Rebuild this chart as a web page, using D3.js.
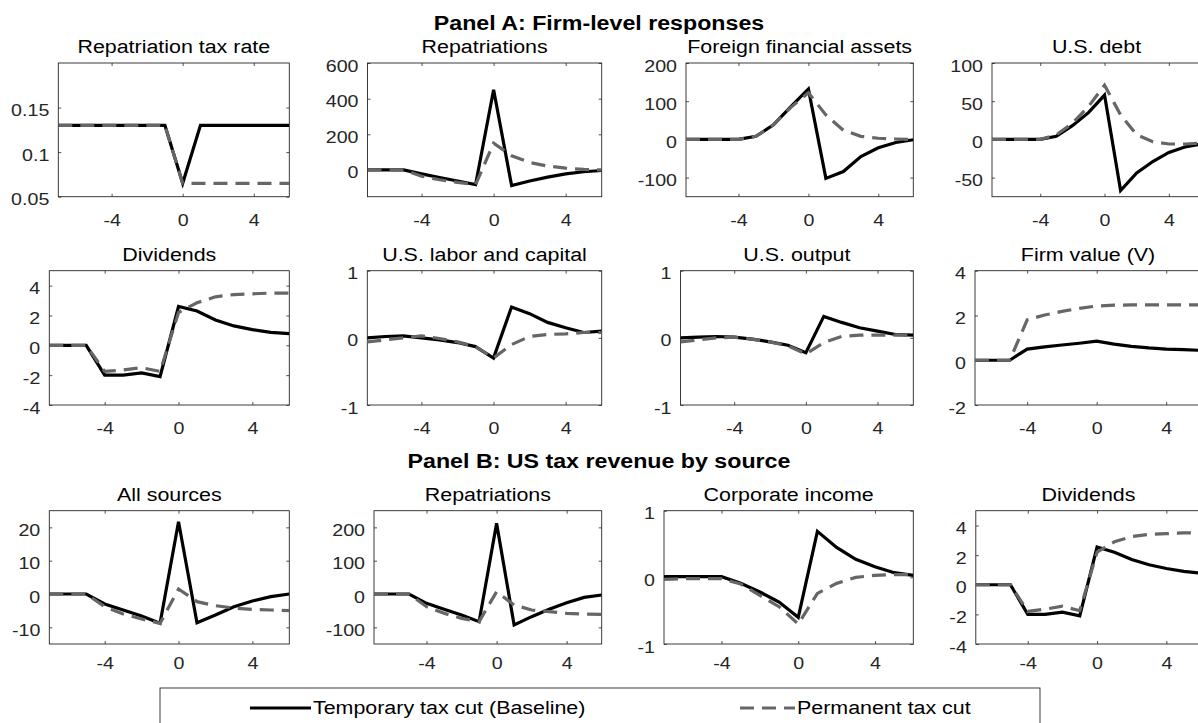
<!DOCTYPE html>
<html><head><meta charset="utf-8">
<script src="https://cdn.jsdelivr.net/npm/d3@7"></script>
<style>html,body{margin:0;padding:0;background:#fff;overflow:hidden}</style>
</head><body>
<svg id="chart" width="1198" height="723"></svg>
<script>
// ---------------- data ----------------
const periods = [-7,-6,-5,-4,-3,-2,-1,0,1,2,3,4,5,6];
const xTicks = [-4,0,4];
const seriesNames = ["Temporary tax cut (Baseline)", "Permanent tax cut"];
const panelHeadings = ["Panel A: Firm-level responses", "Panel B: US tax revenue by source"];
const panelTitles = ["Repatriation tax rate","Repatriations","Foreign financial assets","U.S. debt",
  "Dividends","U.S. labor and capital","U.S. output","Firm value (V)",
  "All sources","Repatriations","Corporate income","Dividends"];
const yLimits = [[0.05,0.2],[-150,600],[-150,200],[-75,100],
  [-4,5],[-1,1],[-1,1],[-2,4],
  [-15,25],[-150,250],[-1,1],[-4,5]];
const yTicks = [[0.05,0.1,0.15],[0,200,400,600],[-100,0,100,200],[-50,0,50,100],
  [-4,-2,0,2,4],[-1,0,1],[-1,0,1],[-2,0,2,4],
  [-10,0,10,20],[-100,0,100,200],[-1,0,1],[-4,-2,0,2,4]];

const taxRateTemp = [0.13,0.13,0.13,0.13,0.13,0.13,0.13,0.065,0.13,0.13,0.13,0.13,0.13,0.13];
const taxRatePerm = [0.13,0.13,0.13,0.13,0.13,0.13,0.13,0.065,0.065,0.065,0.065,0.065,0.065,0.065];
const repatTemp = [0,0,0,-22,-42,-62,-82,450,-88,-62,-40,-22,-10,-3];
const repatPerm = [0,0,0,-35,-55,-70,-82,150,80,42,22,10,3,0];
const ffaTemp = [0,0,0,0,8,38,86,132,-102,-84,-45,-22,-8,-1];
const ffaPerm = [0,0,0,0,8,38,84,122,64,24,8,3,1,0];
const debtTemp = [0,0,0,0,4,18,35,58,-67,-44,-29,-17,-10,-6];
const debtPerm = [0,0,0,0,6,21,43,71,32,6,-3,-6,-6,-5];
const divTemp = [0,0,0,-2,-2,-1.85,-2.1,2.6,2.3,1.7,1.3,1.05,0.87,0.78];
const divPerm = [0,0,0,-1.75,-1.65,-1.5,-1.75,2.2,2.85,3.25,3.4,3.45,3.5,3.5];
const laborTemp = [0.0,0.02,0.03,0.0,-0.03,-0.07,-0.13,-0.3,0.46,0.36,0.23,0.15,0.08,0.1];
const laborPerm = [-0.06,-0.03,0.0,0.03,-0.01,-0.06,-0.13,-0.3,-0.1,0.02,0.05,0.06,0.08,0.08];
const outputTemp = [0.0,0.01,0.02,0.01,-0.02,-0.06,-0.11,-0.22,0.32,0.23,0.15,0.1,0.05,0.04];
const outputPerm = [-0.06,-0.03,0.0,0.01,-0.02,-0.06,-0.12,-0.24,-0.07,0.02,0.04,0.04,0.04,0.04];
const valueTemp = [0,0,0,0.5,0.6,0.68,0.76,0.85,0.72,0.62,0.55,0.5,0.47,0.44];
const valuePerm = [0,0,0,1.8,2.02,2.18,2.32,2.42,2.46,2.47,2.47,2.47,2.47,2.47];
const revAllTemp = [0,0,0,-3,-4.8,-6.6,-8.8,21.7,-8.6,-6.3,-3.8,-2.1,-0.8,0];
const revAllPerm = [0,0,0,-3.8,-6,-7.5,-8.8,1.5,-2.3,-3.5,-4.2,-4.6,-4.8,-5];
const revRepatTemp = [0,0,0,-28,-46,-63,-83,212,-93,-68,-46,-26,-10,-3];
const revRepatPerm = [0,0,0,-38,-58,-73,-83,7,-33,-48,-53,-58,-60,-61];
const revCorpTemp = [0.01,0.01,0.01,0.01,-0.09,-0.22,-0.37,-0.6,0.69,0.45,0.27,0.16,0.07,0.03];
const revCorpPerm = [-0.03,-0.02,-0.02,-0.02,-0.1,-0.27,-0.44,-0.7,-0.24,-0.09,0.0,0.03,0.04,0.04];
const revDivTemp = [0,0,0,-2,-2,-1.85,-2.1,2.55,2.2,1.7,1.35,1.1,0.9,0.78];
const revDivPerm = [0,0,0,-1.8,-1.65,-1.45,-1.75,2.2,2.9,3.25,3.4,3.45,3.5,3.5];

const tempSeries = [taxRateTemp,repatTemp,ffaTemp,debtTemp,divTemp,laborTemp,outputTemp,valueTemp,revAllTemp,revRepatTemp,revCorpTemp,revDivTemp];
const permSeries = [taxRatePerm,repatPerm,ffaPerm,debtPerm,divPerm,laborPerm,outputPerm,valuePerm,revAllPerm,revRepatPerm,revCorpPerm,revDivPerm];

// ---------------- layout ----------------
const rowTops = [63, 270.7, 510.7];
const rowBottoms = [196.7, 405, 644];
const xLabelOffsets = [29, 29, 25.5];
const colRights = [289.3, 601.7, 913.3, 1201];
const panelLefts = [[58.3, 367.5, 686, 992],[49.3, 367.3, 680.5, 975],[49.3, 374, 664, 975.8]];
const SX = 1.19;
const FONT = "'Liberation Sans', Arial, Helvetica, sans-serif";
const TXT = "#262626";

const svg = d3.select("#chart");
svg.append("rect").attr("width",1198).attr("height",723).attr("fill","#fff");

function stretchedText(parent, x, y, str, size, weight, anchor, fill) {
  return parent.append("text")
    .attr("transform", `translate(${x},${y}) scale(${SX},1)`)
    .attr("text-anchor", anchor || "middle")
    .attr("font-family", FONT)
    .attr("font-size", size)
    .attr("font-weight", weight || "normal")
    .attr("fill", fill || "#000")
    .text(str);
}

const fmt = d => String(d);

panelTitles.forEach((title, i) => {
  const r = Math.floor(i / 4), c = i % 4;
  const left = panelLefts[r][c], right = colRights[c];
  const top = rowTops[r], bottom = rowBottoms[r];
  const w = right - left, h = bottom - top;
  const x = d3.scaleLinear().domain([-7, 6]).range([0, w]);
  const y = d3.scaleLinear().domain(yLimits[i]).range([h, 0]);
  const g = svg.append("g").attr("transform", `translate(${left},${top})`);

  const clipId = "clip" + i;
  g.append("clipPath").attr("id", clipId).append("rect").attr("width", w).attr("height", h);

  // axes
  const ax = (gen) => gen.tickSizeOuter(0).tickSizeInner(-3);
  const bAxis = g.append("g").attr("transform", `translate(0,${h})`)
    .call(ax(d3.axisBottom(x).tickValues(xTicks).tickFormat(fmt)));
  const tAxis = g.append("g").call(ax(d3.axisTop(x).tickValues(xTicks).tickFormat("")));
  const lAxis = g.append("g").call(ax(d3.axisLeft(y).tickValues(yTicks[i]).tickFormat(fmt)));
  const rAxis = g.append("g").attr("transform", `translate(${w},0)`)
    .call(ax(d3.axisRight(y).tickValues(yTicks[i]).tickFormat("")));
  [bAxis, tAxis, lAxis, rAxis].forEach(a => {
    a.select(".domain").remove();
    a.selectAll("line").attr("stroke", TXT).attr("stroke-width", 0.8);
  });
  bAxis.selectAll("text")
    .attr("y", xLabelOffsets[r]).attr("dy", 0)
    .attr("transform", `scale(${SX},1)`)
    .attr("font-family", FONT).attr("font-size", 16.5).attr("fill", TXT);
  lAxis.selectAll("text")
    .attr("x", -9 / SX).attr("dy", 8)
    .attr("transform", `scale(${SX},1)`)
    .attr("font-family", FONT).attr("font-size", 16.5).attr("fill", TXT);

  g.append("rect").attr("width", w).attr("height", h)
    .attr("fill", "none").attr("stroke", TXT).attr("stroke-width", 0.9);

  const line = d3.line().x((d, k) => x(periods[k])).y(d => y(d));
  const lines = g.append("g").attr("clip-path", `url(#${clipId})`);
  lines.append("path").datum(tempSeries[i]).attr("d", line)
    .attr("fill", "none").attr("stroke", "#000").attr("stroke-width", 3.2)
    .attr("stroke-linejoin", "miter");
  lines.append("path").datum(permSeries[i]).attr("d", line)
    .attr("fill", "none").attr("stroke", "#666666").attr("stroke-width", 3.2)
    .attr("stroke-dasharray", "14,8");

  stretchedText(g, w / 2, -10, title, 18, "normal", "middle", "#000");
});

// headings
stretchedText(svg, 599, 30, panelHeadings[0], 19.5, "bold", "middle", "#000");
stretchedText(svg, 599, 468, panelHeadings[1], 19.5, "bold", "middle", "#000");

// legend
const leg = svg.append("g");
leg.append("rect").attr("x", 160).attr("y", 688).attr("width", 880).attr("height", 60)
  .attr("fill", "#fff").attr("stroke", TXT).attr("stroke-width", 0.9);
const legendItems = [
  {name: seriesNames[0], x1: 250, x2: 311, tx: 313, color: "#000", dash: null},
  {name: seriesNames[1], x1: 740, x2: 795, tx: 797, color: "#666666", dash: "14,8"}
];
legendItems.forEach(it => {
  leg.append("line").attr("x1", it.x1).attr("x2", it.x2).attr("y1", 708).attr("y2", 708)
    .attr("stroke", it.color).attr("stroke-width", 3.2).attr("stroke-dasharray", it.dash);
  stretchedText(leg, it.tx, 714, it.name, 18, "normal", "start", "#000");
});
</script>
</body></html>
